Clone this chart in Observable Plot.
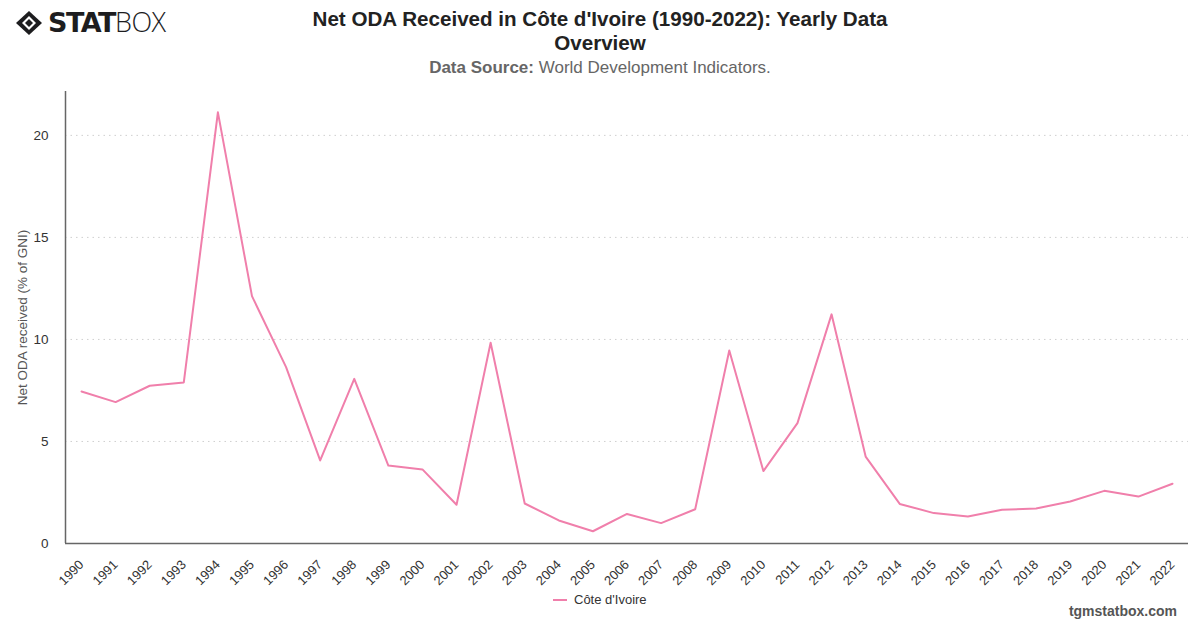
<!DOCTYPE html>
<html><head><meta charset="utf-8">
<script src="https://cdn.jsdelivr.net/npm/d3@7"></script>
<script src="https://cdn.jsdelivr.net/npm/@observablehq/plot@0.6"></script>
<style>
body{margin:0;background:#fff;font-family:"Liberation Sans",Arial,sans-serif;}
#wrap{position:relative;width:1200px;height:628px;overflow:hidden;background:#fff;}
#chart{position:absolute;left:0;top:0;}
.title{position:absolute;left:200px;width:800px;top:7px;text-align:center;font-size:20.6px;font-weight:700;color:#222;line-height:24px;}
.sub{position:absolute;left:200px;width:800px;top:58px;text-align:center;font-size:17px;color:#666;}
.sub b{color:#666;}
.logo{position:absolute;left:14px;top:7px;display:flex;align-items:center;}
.logo .txt{font-size:27px;color:#1d1d1f;letter-spacing:-0.5px;line-height:30px;}
.logo .s{font-weight:900;font-family:"DejaVu Sans";letter-spacing:-1.5px;}
.logo .b{font-weight:300;font-family:"Open Sans";}
.legend{position:absolute;left:553px;top:592px;font-size:13px;color:#333;display:flex;align-items:center;}
.legend .sw{width:14px;height:2px;background:#f07fab;margin-right:7px;}
.foot{position:absolute;right:23px;top:603px;font-size:14px;font-weight:700;color:#555;}
</style></head>
<body>
<div id="wrap">
  <div class="logo">
    <svg width="30" height="26" viewBox="0 0 30 26">
      <path d="M15 1 L28 13 L15 25 L2 13 Z" fill="#1d1d1f"/>
      <path d="M15 6 L22 13 L15 20 L8 13 Z" fill="#fff"/>
      <path d="M15 9 L19 13 L15 17 L11 13 Z" fill="#1d1d1f"/>
    </svg>
    <span class="txt" style="margin-left:4px"><span class="s">STAT</span><span class="b">BOX</span></span>
  </div>
  <div class="title">Net ODA Received in Côte d'Ivoire (1990-2022): Yearly Data<br>Overview</div>
  <div class="sub"><b>Data Source:</b> World Development Indicators.</div>
  <div id="chart"></div>
  <div class="legend"><span class="sw"></span>Côte d'Ivoire</div>
  <div class="foot">tgmstatbox.com</div>
</div>
<script>
const years = [1990,1991,1992,1993,1994,1995,1996,1997,1998,1999,2000,2001,2002,2003,2004,2005,2006,2007,2008,2009,2010,2011,2012,2013,2014,2015,2016,2017,2018,2019,2020,2021,2022];
const odaValues = [7.45,6.93,7.73,7.89,21.13,12.12,8.64,4.07,8.07,3.82,3.63,1.90,9.84,1.96,1.13,0.60,1.45,1.00,1.68,9.46,3.55,5.90,11.23,4.26,1.94,1.49,1.32,1.65,1.72,2.06,2.58,2.30,2.93];
const yTicks = [0,5,10,15,20];
const seriesName = "Côte d'Ivoire";
const yLabel = "Net ODA received (% of GNI)";

const data = years.map((y,i)=>({year:y, value:odaValues[i], series:seriesName}));
const xDomain = [years[0]-0.47, years[years.length-1]+0.47];

const chart = Plot.plot({
  width:1200, height:628,
  marginTop:91, marginBottom:85, marginLeft:65, marginRight:12,
  style:{fontFamily:"Liberation Sans, Arial, sans-serif", background:"transparent"},
  x:{type:"linear", domain:xDomain},
  y:{domain:[0,22.15]},
  marks:[
    Plot.gridY(yTicks.filter(d=>d>0), {stroke:"#cfcfcf", strokeOpacity:1, strokeDasharray:"1.5,4"}),
    Plot.axisY({ticks:yTicks, tickSize:0, tickPadding:17, fontSize:13.5, color:"#333",
      label:yLabel, labelAnchor:"center", labelArrow:"none", labelOffset:48}),
    Plot.axisX({ticks:years, tickFormat:d=>String(d), tickSize:0, tickPadding:19, tickRotate:-45, fontSize:13, color:"#333", label:null}),
    Plot.ruleY([0], {stroke:"#666", strokeWidth:1.5}),
    Plot.ruleX([xDomain[0]], {stroke:"#666", strokeWidth:1.5}),
    Plot.line(data, {x:"year", y:"value", stroke:"#f07fab", strokeWidth:2})
  ]
});
chart.querySelectorAll('[aria-label="y-axis label"] text').forEach(t=>{t.setAttribute("fill","#555");t.style.fontSize="13.5px";});
document.getElementById("chart").appendChild(chart);
</script>
</body></html>
